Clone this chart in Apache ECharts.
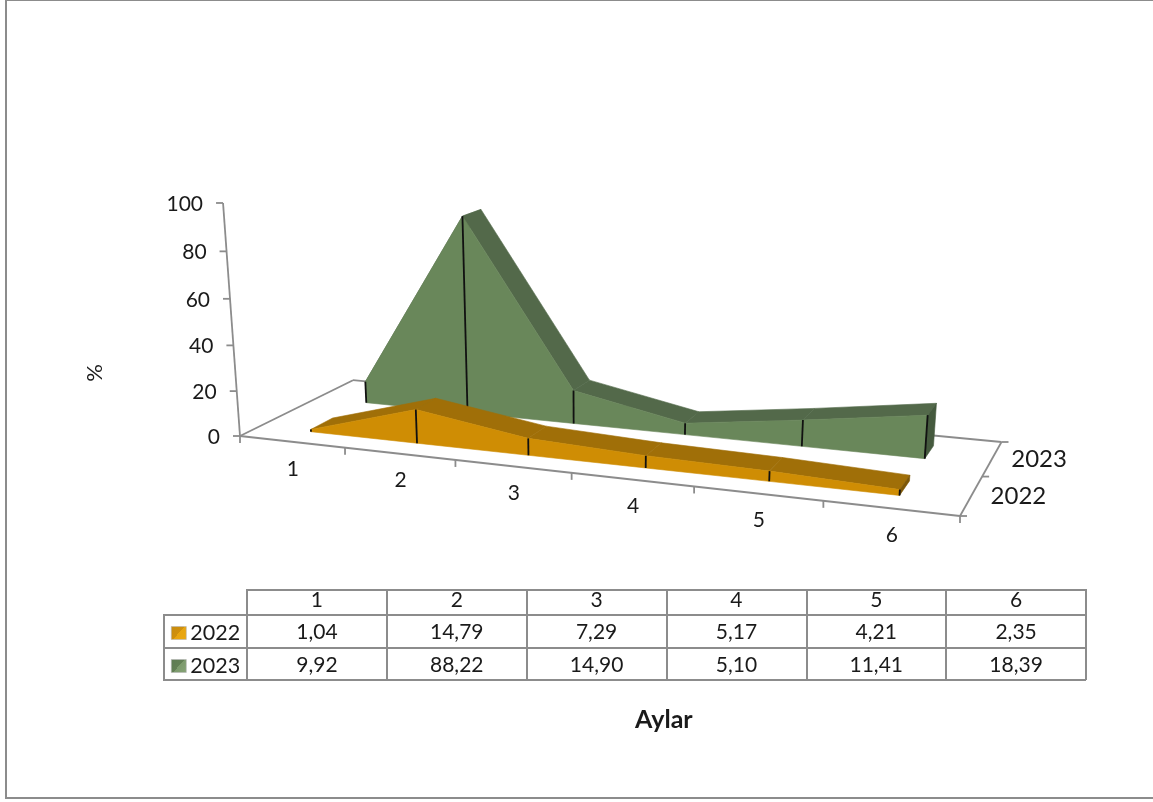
<!DOCTYPE html>
<html><head><meta charset="utf-8">
<style>html,body{margin:0;padding:0;background:#fff}#c{width:1153px;height:802px}</style>
<script src="https://cdn.jsdelivr.net/npm/echarts@6/dist/echarts.min.js"></script>
</head><body><div id="c"></div>
<script>
const months = ['1','2','3','4','5','6'];
const seriesNames = ['2022','2023'];
const values2022 = [1.04,14.79,7.29,5.17,4.21,2.35];
const values2023 = [9.92,88.22,14.90,5.10,11.41,18.39];
const valueTicks = [0,20,40,60,80,100];

const FONT='Lato', TXT='#1a1a1a', GRAY='#8c8c8c';
// perspective camera calibration: floor corners on screen, vertical vanishing point
const A=[240,436],B=[960,516],C=[1001.5,442],D=[353,380.2],V=[595,5313],K=-0.000456;
const den=(B[0]-C[0])*(D[1]-C[1])-(D[0]-C[0])*(B[1]-C[1]);
const sx=A[0]-B[0]+C[0]-D[0], sy=A[1]-B[1]+C[1]-D[1];
const g=(sx*(D[1]-C[1])-(D[0]-C[0])*sy)/den, h=((B[0]-C[0])*sy-sx*(B[1]-C[1]))/den;
const a0=B[0]*(1+g)-A[0], b0=D[0]*(1+h)-A[0], d0=B[1]*(1+g)-A[1], e0=D[1]*(1+h)-A[1];
// hidden scale grid: 100px per category, 5px per percent
function view(api,cat,depth,val){
  const p=api.coord([cat,val]);
  const s=p[0]/600, v=(500-p[1])/5, r=depth/2;
  const W=1+g*s+h*r;
  const x=(a0*s+b0*r+A[0])/W, y=(d0*s+e0*r+A[1])/W, t=K*v/W;
  return [(x+t*V[0])/(1+t),(y+t*V[1])/(1+t)];
}
function poly(points,fill,z2){
  return {type:'polygon',z2,shape:{points},style:{fill,stroke:fill,lineWidth:0.6}};
}
function seg(p,q,z2,col,w){
  return {type:'line',z2,shape:{x1:p[0],y1:p[1],x2:q[0],y2:q[1]},style:{stroke:col,lineWidth:w,fill:null}};
}
function txt(x,y,text,align,size){
  return {type:'text',z2:5,x,y,style:{text,fill:TXT,fontFamily:FONT,fontSize:size||21,align:align||'center',verticalAlign:'middle'}};
}
function areaRender(vals,front,back,cFront,cTop,cSide){
  return function(params,api){
    const i=params.dataIndex, u=i+0.5, v=vals[i], ch=[];
    const fb=view(api,u,front,0), ft=view(api,u,front,v), bt=view(api,u,back,v), bb=view(api,u,back,0);
    if(i<vals.length-1){
      const n=vals[i+1], fb2=view(api,u+1,front,0), ft2=view(api,u+1,front,n), bt2=view(api,u+1,back,n);
      ch.push(poly([ft,ft2,bt2,bt],cTop,1));
      ch.push(poly([fb,fb2,ft2,ft],cFront,2));
    } else {
      ch.push(poly([fb,ft,bt,bb],cSide,3));
    }
    ch.push(seg(fb,ft,4,'#111',1.8));
    return {type:'group',children:ch};
  };
}
function floorRender(params,api){
  const ch=[], L=(p,q)=>ch.push(seg(p,q,1,GRAY,1.8));
  const P=(u,d,v)=>view(api,u,d,v||0);
  L(P(0,0),P(6,0)); L(P(6,0),P(6,2)); L(P(6,2),P(0,2)); L(P(0,2),P(0,0));
  L(P(0,0),P(0,0,100));
  valueTicks.forEach(v=>{
    const p=P(0,0,v); L([p[0]-7,p[1]],p);
    ch.push(txt(p[0]-20,p[1]+1,String(v),'right'));
  });
  for(let i=0;i<=6;i++){const p=P(i,0);L(p,[p[0],p[1]+7]);}
  [0,1,2].forEach(d=>{const p=P(6,d);L(p,[p[0]+7,p[1]]);});
  months.forEach((m,i)=>{const p=P(i+0.5,0);ch.push(txt(p[0]+1,p[1]+27,m));});
  seriesNames.forEach((n,i)=>{const p=P(6,i+0.5);ch.push(txt(p[0]+47,p[1]+1,n,'center',24));});
  return {type:'group',children:ch};
}
const rows=[values2022,values2023];
const tableData=[];
rows.forEach((r,ri)=>r.forEach((v,ci)=>tableData.push([ci,ri,v])));
function cellRender(params,api){
  const p=api.coord([api.value(0),api.value(1)]);
  return txt(p[0],p[1]+1,api.value(2).toFixed(2).replace('.',','));
}
function key(c0,c1,c2,c3){
  return {color:new echarts.graphic.LinearGradient(0,0,1,1,[
    {offset:0,color:c0},{offset:0.5,color:c1},{offset:0.5,color:c2},{offset:1,color:c3}]),
    borderColor:'#b5b5b5',borderWidth:0.6};
}
const cells=s=>s.map((v,i)=>[i+0.5,v]);
const chart=echarts.init(document.getElementById('c'),null,{renderer:'canvas'});
chart.setOption({
  animation:false,
  backgroundColor:'#fff',
  textStyle:{fontFamily:FONT},
  title:{text:'Aylar',left:630,top:702,textStyle:{fontFamily:FONT,fontSize:25,fontWeight:'bold',color:TXT}},
  legend:{orient:'vertical',left:166,top:617,itemWidth:15,itemHeight:13,itemGap:11,selectedMode:false,
    textStyle:{fontFamily:FONT,fontSize:21.5,color:TXT,padding:[0,0,0,-1]},
    data:[{name:'2022',icon:'rect',itemStyle:key('#c78c10','#d0900c','#e8a510','#eba810')},
          {name:'2023',icon:'rect',itemStyle:key('#5d7a52','#638055','#7c9a6c','#86a376')}]},
  grid:[{left:0,top:0,width:600,height:500,show:false},
        {left:247,top:615,width:839,height:65,show:false}],
  xAxis:[{type:'value',min:0,max:6,show:false,gridIndex:0},
    {type:'category',gridIndex:1,data:months,position:'top',
     axisLine:{show:true,lineStyle:{color:GRAY,width:2}},
     axisTick:{show:true,length:25,lineStyle:{color:GRAY,width:2}},
     axisLabel:{margin:4,fontFamily:FONT,fontSize:21,color:TXT},
     splitLine:{show:true,lineStyle:{color:GRAY,width:2}}}],
  yAxis:[{type:'value',min:0,max:100,show:false,gridIndex:0},
    {type:'category',gridIndex:1,data:seriesNames,inverse:true,
     axisLine:{show:true,lineStyle:{color:GRAY,width:2}},
     axisTick:{show:true,length:83,lineStyle:{color:GRAY,width:2}},
     axisLabel:{show:false},
     splitLine:{show:true,lineStyle:{color:GRAY,width:2}}}],
  graphic:[
    {type:'rect',silent:true,z:-1,shape:{x:6,y:0,width:1200,height:798},style:{fill:null,stroke:GRAY,lineWidth:2}},
    {type:'line',silent:true,shape:{x1:246,y1:590,x2:1087,y2:590},style:{stroke:GRAY,lineWidth:2}},
    {type:'line',silent:true,shape:{x1:164,y1:614,x2:164,y2:681},style:{stroke:GRAY,lineWidth:2}},
    {type:'text',silent:true,x:95,y:373,rotation:Math.PI/2,style:{text:'%',fontFamily:FONT,fontSize:22,fill:TXT,align:'center',verticalAlign:'middle'}}
  ],
  series:[
    {type:'custom',name:'axes',z:1,silent:true,xAxisIndex:0,yAxisIndex:0,data:[[0,0]],renderItem:floorRender},
    {type:'custom',name:'2023',z:3,silent:true,xAxisIndex:0,yAxisIndex:0,data:cells(values2023),
     renderItem:areaRender(values2023,1.32,1.70,'#69875a','#53694a','#455a3e')},
    {type:'custom',name:'2022',z:4,silent:true,xAxisIndex:0,yAxisIndex:0,data:cells(values2022),
     renderItem:areaRender(values2022,0.32,0.70,'#cf8d04','#a06f08','#7d5706')},
    {type:'custom',name:'table',z:5,silent:true,xAxisIndex:1,yAxisIndex:1,data:tableData,renderItem:cellRender}
  ]
});
</script></body></html>
